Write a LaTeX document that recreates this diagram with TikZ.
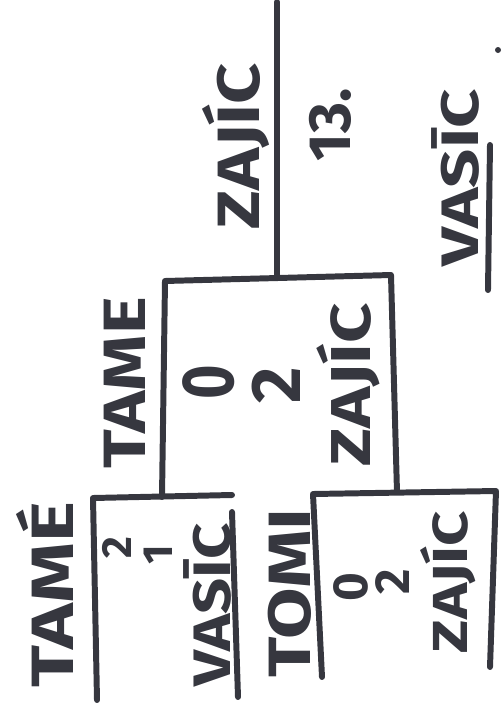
\documentclass[tikz,border=0pt]{standalone}
\usepackage{fontspec}
\newfontfamily\handfont{Fira Sans}
\usetikzlibrary{positioning}
\definecolor{ink}{RGB}{54,55,63}
\tikzset{
  pen/.style={line width=3.4pt, ink, line cap=round, line join=round},
  hand/.style={rotate=90, text=ink, inner sep=0pt, font=\handfont\bfseries\fontsize{#1}{#1}\selectfont},
  hand/.default=34,
}

\begin{document}
\begin{tikzpicture}[x=0.02cm, y=-0.02cm]
    \useasboundingbox (0,0) rectangle (502,708);
    % bracket corners
    \coordinate (top) at (277,2);
    \coordinate (midjoin) at (277,278);
    \coordinate (mtl) at (165,281); \coordinate (mtr) at (391,275);
    \coordinate (mbl) at (162,497); \coordinate (mbr) at (397,492);
    \coordinate (ltl) at (93,498); \coordinate (ltr) at (232,495);
    \coordinate (lbl) at (97,700); \coordinate (lrt) at (232,512); \coordinate (lbr) at (238,697);
    \coordinate (rtl) at (313,494); \coordinate (rtr) at (496,491);
    \coordinate (rbl) at (322,677); \coordinate (rbr) at (490,667);
    % lines
    \draw[pen] (top) -- (midjoin);
    \draw[pen] (mbl) -- (mtl) -- (mtr) -- (mbr);
    \draw[pen] (lbl) -- (ltl) -- (ltr);
    \draw[pen] (lrt) -- (lbr);
    \draw[pen] (rbl) -- (rtl) -- (rtr) -- (rbr);
    \draw[pen] (490,145) coordinate (edgea) -- (488,290) coordinate (edgeb);
    \fill[ink] (498,50) circle (3);
    % names
    \node[hand, xscale=1.3] (tameL) at (45,595) {TAMÉ};
    \node[hand, xscale=1.2] (tameM) at (125,383) {TAME};
    \node[hand, xscale=1.25] (tomi) at (290,593) {TOMI};
    \node[hand, xscale=1.2] (zajicT) at (236,146) {ZAJÍC};
    \node[hand=30, xscale=1.3] (vasicR) at (455,178) {VASĪC};
    % left box
    \node[hand=24] (twoL) at (117,548) {2};
    \node[hand=24] (oneL) at (158,555) {1};
    \node[hand=30, xscale=1.2] (vasicL) at (207,605) {VASĪC};
    % middle box
    \node[hand=42, xscale=0.8] (zeroM) at (209,382) {0};
    \node[hand=40] (twoM) at (276,385) {2};
    \node[hand=32, xscale=1.25] (zajicM) at (348,385) {ZAJÍC};
    % right box
    \node[hand=28] (zeroR) at (351,587) {0};
    \node[hand=28] (twoR) at (393,582) {2};
    \node[hand=28, xscale=1.25] (zajicR) at (448,582) {ZAJÍC};
    % score
    \node[hand=34] (score) at (330,125) {13.};
\end{tikzpicture}
\end{document}
